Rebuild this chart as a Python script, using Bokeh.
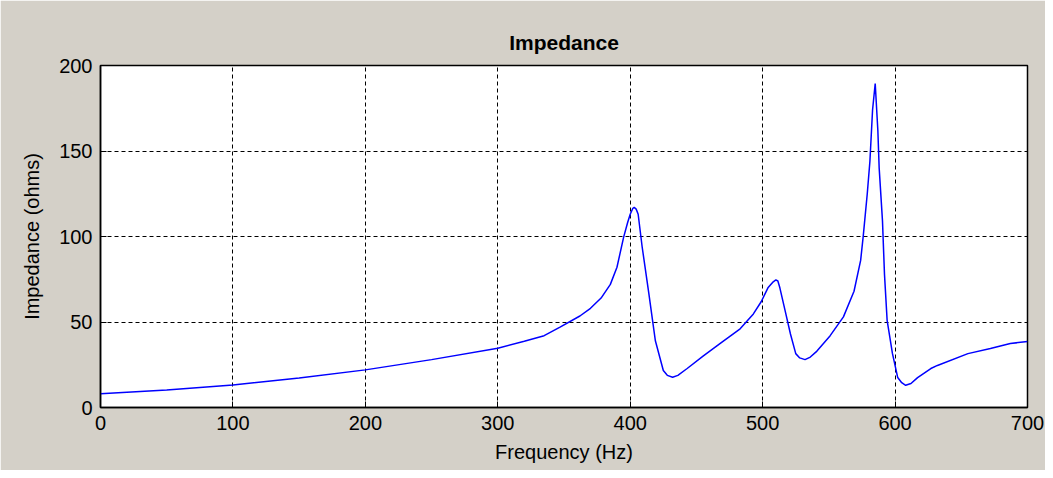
from bokeh.plotting import figure
from bokeh.models import Range1d, FixedTicker, ColumnDataSource
from bokeh.embed import file_html
from bokeh.resources import INLINE

freq = [0, 50, 100, 150, 200, 250, 300, 320, 335, 347, 362, 370, 378, 385, 390, 395,
        398, 400, 402, 403, 404.5, 406, 409, 414, 419, 425, 428, 432, 436, 443, 455,
        468, 483, 493, 499, 504, 508, 510, 511.5, 513, 517, 521, 525, 528, 532, 536,
        541, 551, 561, 569, 574, 576, 579, 581, 583, 585, 587, 588, 590.5, 592, 594,
        598, 602, 605, 608, 612, 617, 627, 632, 655, 672, 687, 700]
impedance = [8, 10.3, 13.2, 17.3, 22, 28, 34.7, 38.8, 42, 47, 53.5, 58, 64, 72, 82, 99.5,
             108, 113, 116.5, 117, 116, 113, 94, 67, 39, 21.6, 18.8, 17.7, 18.8, 22.8, 30,
             37.5, 46, 54.7, 62, 70, 73.5, 74.6, 74, 70, 56.5, 43, 31.5, 29, 28, 29.5,
             33, 42, 53, 68, 86, 100.5, 125, 144, 174, 189.5, 162, 140, 109, 78, 51,
             31.6, 17.5, 14.5, 13, 14, 17.5, 22.8, 24.6, 31.5, 34.5, 37.4, 38.6]
x_ticks = [0, 100, 200, 300, 400, 500, 600, 700]
y_ticks = [0, 50, 100, 150, 200]

GRAY = "#d4d0c8"
FONT = "Liberation Sans"

p = figure(width=1045, height=470, output_backend="svg", toolbar_location=None,
           x_range=Range1d(0, 700), y_range=Range1d(0, 200),
           title="Impedance",
           min_border_left=100, min_border_right=18, min_border_top=65, min_border_bottom=63)

p.border_fill_color = GRAY
p.background_fill_color = "white"
p.outline_line_color = "black"
p.outline_line_width = 1.5

p.title.align = "center"
p.title.text_font = FONT
p.title.text_font_size = "21px"
p.title.text_font_style = "bold"
p.title.text_color = "black"
p.title.standoff = 23

src = ColumnDataSource(dict(f=freq, z=impedance))
p.line("f", "z", source=src, line_color="#0000ff", line_width=1.5)

for ax in (p.xaxis[0], p.yaxis[0]):
    ax.axis_line_color = "black"
    ax.axis_line_width = 1.5
    ax.major_tick_in = 6
    ax.major_tick_out = 0
    ax.minor_tick_in = 0
    ax.minor_tick_out = 0
    ax.major_tick_line_color = "black"
    ax.major_label_text_font = FONT
    ax.major_label_text_font_size = "20px"
    ax.major_label_text_color = "black"
    ax.axis_label_text_font = FONT
    ax.axis_label_text_font_size = "20px"
    ax.axis_label_text_font_style = "normal"
    ax.axis_label_text_color = "black"

p.xaxis[0].ticker = FixedTicker(ticks=x_ticks)
p.yaxis[0].ticker = FixedTicker(ticks=y_ticks)
p.xaxis[0].axis_label = "Frequency (Hz)"
p.yaxis[0].axis_label = "Impedance (ohms)"
p.xaxis[0].major_label_standoff = 8
p.yaxis[0].major_label_standoff = 8
p.xaxis[0].axis_label_standoff = 8
p.yaxis[0].axis_label_standoff = 13

p.grid.grid_line_color = "black"
p.grid.grid_line_dash = "4 3"
p.grid.grid_line_width = 1
p.xgrid.ticker = FixedTicker(ticks=x_ticks)
p.ygrid.ticker = FixedTicker(ticks=y_ticks)

open("out.html", "w").write(file_html(p, INLINE))
